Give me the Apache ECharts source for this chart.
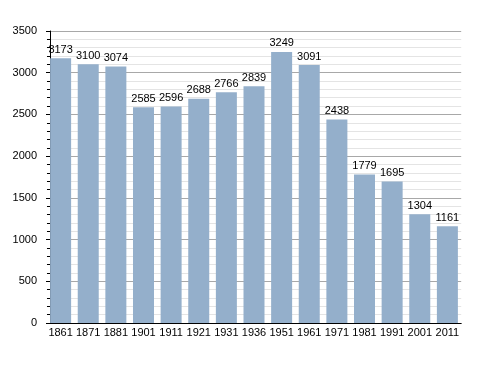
<!DOCTYPE html>
<html><head><meta charset="utf-8">
<script src="https://cdn.jsdelivr.net/npm/echarts@6/dist/echarts.min.js"></script>
<style>html,body{margin:0;padding:0;background:#fff}#c{width:488px;height:373px}</style>
</head><body><div id="c"></div>
<script>
const years = ['1861','1871','1881','1901','1911','1921','1931','1936','1951','1961','1971','1981','1991','2001','2011'];
const population = [3173,3100,3074,2585,2596,2688,2766,2839,3249,3091,2438,1779,1695,1304,1161];
const yTicks = [0,500,1000,1500,2000,2500,3000,3500];

const chart = echarts.init(document.getElementById('c'), null, {renderer:'canvas'});
const font = '"Liberation Sans", Arial, sans-serif';
chart.setOption({
  animation:false,
  backgroundColor:'#ffffff',
  grid:{left:46.8, right:26.8, top:31, bottom:50, containLabel:false},
  xAxis:{
    type:'category', data:years,
    axisLine:{show:true, lineStyle:{color:'#000', width:1}},
    axisTick:{show:false},
    axisLabel:{color:'#000', fontFamily:font, fontSize:11, margin:4, interval:0},
    splitLine:{show:false}
  },
  yAxis:{
    type:'value', min:yTicks[0], max:yTicks[yTicks.length-1], interval:500, offset:-3.2,
    axisLine:{show:true, lineStyle:{color:'#000', width:1}},
    axisTick:{show:true, length:4, lineStyle:{color:'#000'}},
    minorTick:{show:true, splitNumber:5, length:3, lineStyle:{color:'#000'}},
    axisLabel:{color:'#000', fontFamily:font, fontSize:11, margin:13, formatter:v => String(v)},
    splitLine:{show:true, lineStyle:{color:'#a8a8a8', width:1}},
    minorSplitLine:{show:true, lineStyle:{color:'#e4e4e4', width:1}}
  },
  series:[{
    type:'bar', data:population, barWidth:21,
    itemStyle:{color:'#94afcb'},
    label:{show:true, position:'top', distance:3, color:'#000', fontFamily:font, fontSize:11}
  }]
});
</script></body></html>
